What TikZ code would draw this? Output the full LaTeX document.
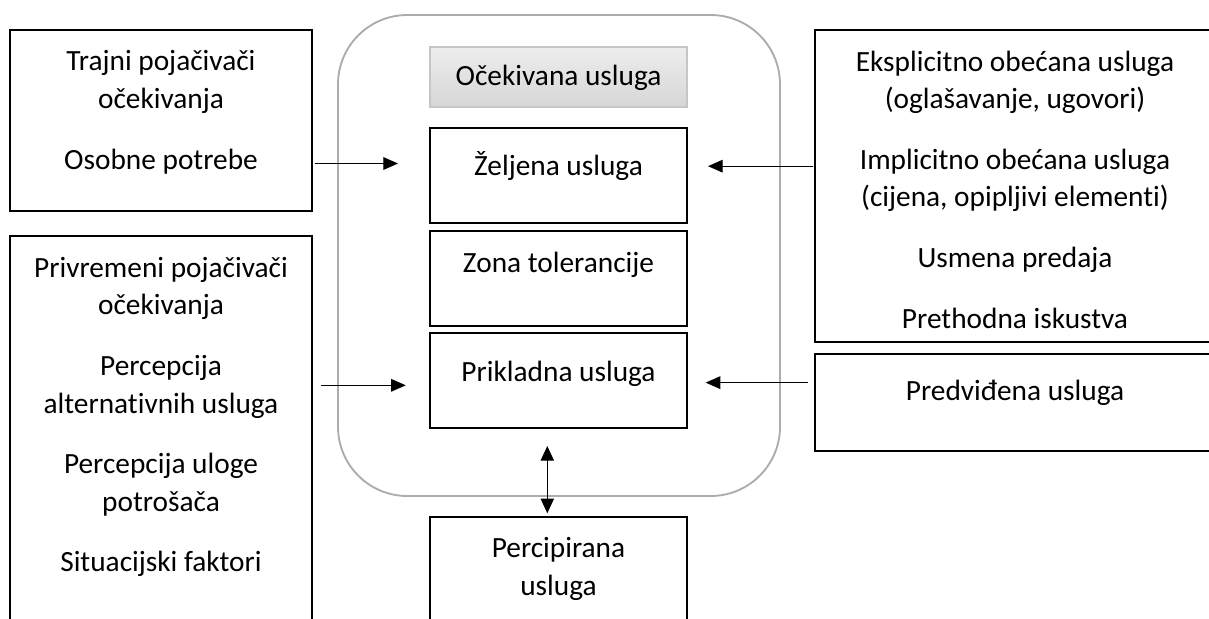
\documentclass[tikz,border=0pt]{standalone}
\usepackage{fontspec}
\setmainfont{Carlito}[Ligatures=CommonOff]
\usepackage{tikz}
\usetikzlibrary{positioning}
\usetikzlibrary{arrows.meta}

\newcommand{\diagfont}{\fontsize{22pt}{28.2pt}\selectfont}
\newcommand{\pgap}{17.25pt}

\begin{document}
\begin{tikzpicture}[x=0.75pt, y=-0.75pt,
  box/.style={draw, line width=1.4pt, inner sep=0pt, outer sep=0pt},
  inbox/.style={box, minimum width=192.75pt, minimum height=71.25pt},
  grbox/.style={draw=gray!45, line width=1pt, top color=gray!14, bottom color=gray!32,
    inner sep=0pt, outer sep=0pt, minimum width=192.75pt, minimum height=45pt},
  cont/.style={draw=gray!65, line width=1.4pt, rounded corners=52pt, inner sep=0pt, outer sep=0pt},
  txt/.style={font=\diagfont, align=center, inner sep=0pt, execute at begin node=\strut},
  arr/.style={-{Triangle[length=11pt,width=9.5pt]}, line width=0.75pt},
  arrboth/.style={{Triangle[length=11pt,width=10pt]}-{Triangle[length=11pt,width=10pt]}, line width=0.75pt}]

        \useasboundingbox (0,0) rectangle (1209,618);
        \clip (0,0) rectangle (1209,618);

        % expected service frame
        \node[cont, minimum width=331.5pt, minimum height=360.75pt] (exp) at (559,255.5) {};

        \node[grbox]  (ocek) at (558.5,77) {};
        \node[inbox]  (zel)  [below=15.75pt of ocek] {};
        \node[inbox]  (zona) [below=6.2pt of zel] {};
        \node[inbox]  (prik) [below=5.25pt of zona] {};
        \node[box, minimum width=192.75pt, minimum height=99.75pt] (perc) [below=66.75pt of prik] {};

        \node[box, minimum width=226.5pt, minimum height=135.75pt] (ltop) at (161,120.5) {};
        \node[box, minimum width=226.5pt, minimum height=310.5pt]  (lbot) [below=18.75pt of ltop] {};

        \node[box, minimum width=300pt, minimum height=234pt]   (rtop) at (1015,186) {};
        \node[box, minimum width=300pt, minimum height=72.75pt] (rbot) [below=9pt of rtop] {};

        % texts
        \node[txt] (ocekt) [below=8.8pt of ocek.north] {Očekivana usluga};
        \node[txt] (zelt)  [below=15.5pt of zel.north]  {Željena usluga};
        \node[txt] (zonat) [below=11.2pt of zona.north] {Zona tolerancije};
        \node[txt] (prikt) [below=16pt of prik.north] {Prikladna usluga};
        \node[txt] (perct) [below=15pt of perc.north]  {Percipirana\\usluga};

        \node[txt] (ltopt) [below=15.3pt of ltop.north] {Trajni pojačivači\\očekivanja\\[\pgap]Osobne potrebe};
        \node[txt] (lbott) [below=15.6pt of lbot.north] {Privremeni pojačivači\\očekivanja\\[\pgap]Percepcija\\alternativnih usluga\\[\pgap]Percepcija uloge\\potrošača\\[\pgap]Situacijski faktori};

        \node[txt] (rtopt) [below=15.3pt of rtop.north] {Eksplicitno obećana usluga\\(oglašavanje, ugovori)\\[\pgap]Implicitno obećana usluga\\(cijena, opipljivi elementi)\\[\pgap]Usmena predaja\\[\pgap]Prethodna iskustva};
        \node[txt] (rbott) [below=15.3pt of rbot.north] {Predviđena usluga};

        \coordinate (zelL)  at ([yshift=9pt]zel.west);
        \coordinate (zelR)  at ([yshift=7pt]zel.east);
        \coordinate (prikL) at ([yshift=-3.4pt]prik.west);
        \coordinate (prikR) at ([yshift=-1.4pt]prik.east);

        \path [arr]
          (ltop.east |- zelL) edge [shorten <=2pt, shorten >=24pt] (zelL)
          (rtop.west |- zelR) edge [shorten <=1.5pt, shorten >=15.75pt] (zelR)
          (lbot.east |- prikL) edge [shorten <=6.5pt, shorten >=18.2pt] (prikL)
          (rbot.west |- prikR) edge [shorten <=5.4pt, shorten >=14pt] (prikR);

        \path [arrboth]
          ([xshift=-8.4pt]prik.south) edge [shorten <=13.3pt, shorten >=3pt] ([xshift=-8.4pt]perc.north);

      \end{tikzpicture}
\end{document}
